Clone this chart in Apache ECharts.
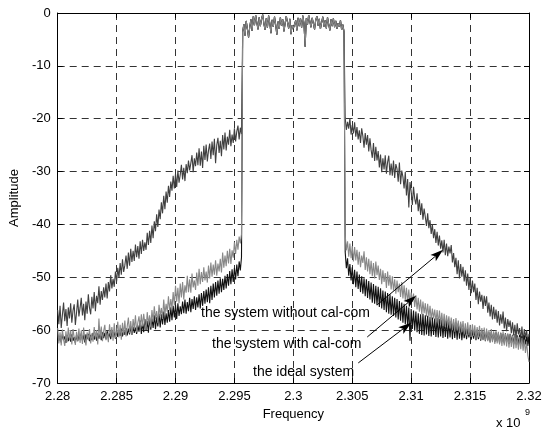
<!DOCTYPE html>
<html>
<head>
<meta charset="utf-8">
<script src="https://cdn.jsdelivr.net/npm/echarts@6/dist/echarts.min.js"></script>
<style>
  html, body { margin: 0; padding: 0; background: #fff; }
  #chart { width: 552px; height: 429px; }
</style>
</head>
<body>
<div id="chart"></div>
<script>
// Frequency grid, in units of 1e9 Hz: sample i sits at freqStart + i * freqStep
const freqStart = 2.28;
const freqStep = 0.0001;

// Axis ticks
const xTicks = [2.28, 2.285, 2.29, 2.295, 2.3, 2.305, 2.31, 2.315, 2.32];
const yTicks = [-70, -60, -50, -40, -30, -20, -10, 0];

// In-band response (2.2957 .. 2.3043), common to all three systems
const passband = [
  -3.6, -2.1, -4.3, -1.5, -3.0, -4.6, -2.7, -1.2, -3.4, -0.6,
  -2.3, -0.4, -1.8, -3.1, -0.8, -2.5, -1.1, -0.3, -2.0, -3.2,
  -1.0, -2.8, -0.5, -1.9, -3.8, -1.3, -2.6, -0.7, -2.2, -4.1,
  -1.6, -3.0, -0.8, -2.4, -1.2, -3.5, -2.0, -0.6, -1.7, -2.9,
  -1.1, -4.0, -2.3, -2.9, -2.8, -1.4, -3.3, -0.9, -2.5, -1.0,
  -2.8, -0.5, -1.9, -6.4, -1.0, -2.2, -0.4, -1.6, -2.7, -0.9,
  -2.0, -3.1, -1.3, -0.6, -2.4, -1.1, -3.0, -1.8, -0.7, -2.6,
  -1.4, -2.9, -0.8, -2.1, -3.3, -1.2, -2.5, -1.0, -2.7, -1.5,
  -3.0, -1.9, -2.6, -1.4, -3.2, -2.2, -3.5
];

// "the system without cal-com": lower (2.2800 .. 2.2956) and upper (2.3044 .. 2.3200) skirts
const withoutLeft = [
  -56.2, -58.9, -55.4, -59.6, -57.1, -54.8, -58.3, -56.0, -59.2, -55.7,
  -57.8, -54.9, -58.6, -56.3, -55.1, -59.0, -56.7, -54.2, -57.4, -55.8,
  -53.9, -57.2, -55.0, -58.1, -54.6, -56.9, -53.2, -55.8, -57.0, -53.7,
  -55.9, -52.8, -56.4, -53.5, -54.9, -51.7, -55.2, -52.6, -54.3, -51.9,
  -53.8, -51.2, -54.0, -50.9, -52.7, -49.6, -52.1, -50.3, -51.8, -48.9,
  -50.8, -48.2, -50.1, -47.3, -49.5, -46.6, -49.0, -47.7, -45.9, -48.4,
  -45.3, -47.8, -44.6, -47.1, -45.0, -46.9, -43.8, -46.2, -44.1, -46.5,
  -43.2, -45.6, -42.9, -45.0, -43.4, -44.8, -41.6, -43.9, -41.2, -43.5,
  -40.2, -42.6, -39.4, -41.3, -38.1, -40.5, -37.2, -39.0, -35.8, -37.9,
  -34.6, -37.1, -33.8, -35.9, -32.7, -34.8, -31.9, -33.6, -30.8, -33.2,
  -30.4, -32.9, -29.8, -32.1, -30.6, -28.7, -31.5, -29.3, -31.8, -28.6,
  -30.3, -27.9, -29.8, -28.4, -26.9, -30.1, -27.5, -29.0, -26.4, -28.8,
  -25.6, -28.9, -26.2, -29.3, -25.1, -27.8, -24.9, -28.1, -26.0, -24.7,
  -27.6, -24.3, -26.9, -23.8, -28.4, -25.0, -23.6, -26.5, -24.2, -27.1,
  -23.1, -25.8, -22.6, -26.0, -23.4, -24.9, -22.1, -25.2, -23.0, -24.6,
  -21.8, -24.3, -22.4, -21.3, -23.9, -21.7, -22.9
];
const withoutRight = [
  -19.8, -22.1, -20.6, -21.9, -19.9, -23.0, -21.2, -22.8, -20.7, -23.4,
  -21.6, -23.9, -22.2, -24.6, -21.8, -23.3, -25.5, -22.7, -24.9, -23.1,
  -26.2, -23.7, -25.9, -27.4, -24.6, -28.0, -25.3, -27.9, -26.1, -29.2,
  -26.8, -30.1, -27.5, -29.6, -26.9, -30.4, -28.2, -27.0, -30.7, -28.5,
  -30.8, -27.9, -31.2, -28.6, -29.5, -31.9, -28.3, -32.4, -29.8, -31.0,
  -33.2, -30.1, -34.5, -31.4, -36.8, -32.0, -33.8, -36.3, -32.9, -35.1,
  -36.2, -34.1, -37.5, -35.3, -38.2, -36.0, -39.1, -37.0, -38.6, -40.3,
  -37.9, -40.7, -39.2, -41.8, -40.0, -42.6, -40.9, -43.5, -41.4, -44.0,
  -42.1, -44.6, -43.0, -45.3, -42.9, -45.8, -43.6, -46.0, -44.2, -45.5,
  -43.9, -47.2, -45.4, -48.1, -46.3, -49.4, -46.8, -50.2, -47.5, -49.9,
  -48.0, -50.8, -48.7, -51.6, -49.3, -52.4, -50.1, -53.0, -50.6, -52.8,
  -51.2, -54.3, -52.0, -55.1, -52.7, -54.6, -53.3, -56.0, -53.5, -55.4,
  -53.6, -56.7, -54.8, -57.4, -55.2, -58.0, -55.6, -57.9, -56.1, -58.6,
  -56.4, -59.1, -57.0, -58.8, -56.5, -59.7, -57.6, -60.2, -57.9, -59.4,
  -58.2, -60.6, -58.5, -61.0, -59.0, -61.5, -58.7, -60.8, -59.6, -61.9,
  -59.3, -62.2, -59.8, -61.4, -60.0, -62.6, -60.7
];

// "the system with cal-com"
const withLeft = [
  -59.6, -62.5, -60.4, -62.9, -59.9, -61.8, -63.0, -60.2, -62.3, -59.5,
  -61.9, -60.0, -62.7, -59.8, -61.4, -62.8, -60.3, -62.1, -59.7, -62.4,
  -60.1, -62.6, -59.5, -61.7, -62.9, -60.4, -61.9, -59.8, -62.5, -60.6,
  -62.2, -59.4, -61.5, -60.0, -62.7, -57.8, -61.6, -59.3, -62.1, -60.2,
  -59.0, -61.9, -60.6, -62.3, -58.9, -61.2, -59.4, -62.0, -58.7, -61.5,
  -60.3, -58.4, -61.4, -59.0, -61.8, -58.6, -60.9, -58.2, -61.2, -59.3,
  -57.6, -60.6, -58.3, -60.9, -57.9, -59.8, -57.2, -60.4, -58.6, -57.4,
  -59.7, -57.0, -59.3, -56.9, -58.8, -59.9, -56.6, -58.9, -57.2, -59.5,
  -56.2, -58.4, -55.5, -57.9, -56.4, -58.7, -55.2, -57.3, -55.8, -57.9,
  -54.2, -57.1, -55.0, -56.6, -53.6, -56.3, -54.1, -55.9, -52.8, -55.3,
  -51.6, -54.6, -52.0, -54.9, -51.2, -53.8, -50.9, -54.2, -51.5, -52.9,
  -49.7, -52.8, -50.4, -52.9, -49.3, -51.9, -50.6, -52.4, -49.1, -51.6,
  -48.4, -51.3, -49.0, -50.9, -48.1, -50.6, -48.9, -51.0, -47.8, -50.2,
  -47.2, -49.9, -47.6, -49.5, -46.8, -49.7, -47.4, -48.9, -46.5, -49.1,
  -45.3, -48.2, -45.9, -47.9, -45.0, -47.4, -44.6, -47.5, -44.9, -46.3,
  -43.4, -45.6, -42.9, -44.8, -42.3, -43.6, -41.8
];
const withRight = [
  -42.0, -44.9, -43.2, -46.1, -43.6, -46.4, -44.1, -47.0, -44.3, -46.8,
  -44.8, -47.6, -45.2, -48.1, -45.9, -47.3, -45.1, -48.6, -46.2, -48.9,
  -46.5, -49.4, -46.9, -49.8, -47.3, -50.2, -47.0, -49.6, -47.8, -50.5,
  -48.4, -51.3, -48.7, -50.9, -49.2, -52.0, -48.9, -51.6, -49.6, -52.3,
  -49.8, -52.5, -50.4, -53.1, -50.6, -52.8, -51.2, -53.7, -50.9, -54.0,
  -51.5, -54.3, -52.0, -54.8, -52.3, -55.2, -52.9, -54.6, -53.1, -55.6,
  -53.4, -56.1, -53.9, -56.5, -54.2, -57.0, -54.6, -56.8, -54.9, -57.4,
  -55.0, -57.6, -55.4, -58.1, -55.9, -57.8, -56.1, -58.5, -56.2, -58.8,
  -56.3, -58.9, -56.7, -59.2, -56.9, -59.4, -57.2, -59.1, -57.4, -59.7,
  -57.6, -60.0, -57.9, -60.3, -57.7, -60.1, -58.2, -60.6, -58.4, -60.4,
  -58.3, -60.8, -58.7, -61.0, -58.5, -60.9, -59.0, -61.3, -58.9, -61.1,
  -59.1, -61.6, -59.4, -61.4, -59.2, -61.8, -59.6, -61.9, -59.5, -62.0,
  -59.7, -62.1, -60.0, -62.4, -59.8, -62.3, -60.2, -62.6, -60.1, -62.5,
  -60.3, -62.7, -60.5, -63.0, -60.2, -62.9, -60.7, -63.1, -60.6, -63.3,
  -60.8, -63.2, -61.0, -63.5, -60.9, -63.4, -61.2, -63.7, -61.3, -63.6,
  -61.5, -63.9, -61.8, -64.3, -62.2, -64.8, -66.0
];

// "the ideal system"
const idealLeft = [
  -60.8, -62.0, -61.1, -62.3, -60.7, -61.9, -61.2, -62.4, -60.9, -62.1,
  -61.0, -62.2, -60.8, -62.0, -61.3, -62.4, -60.9, -62.1, -61.0, -61.8,
  -60.6, -62.0, -61.0, -62.3, -60.8, -61.7, -60.7, -62.1, -60.9, -61.9,
  -60.5, -61.8, -60.8, -62.0, -60.6, -61.6, -60.7, -61.9, -60.4, -61.5,
  -60.5, -61.7, -60.2, -61.5, -60.6, -61.7, -60.1, -61.3, -60.4, -61.6,
  -59.9, -61.3, -60.2, -61.1, -59.7, -61.2, -60.1, -60.9, -59.6, -61.0,
  -59.7, -60.8, -59.3, -60.9, -59.4, -60.5, -59.5, -60.7, -59.1, -60.3,
  -58.2, -60.7, -58.6, -60.4, -57.9, -60.1, -58.3, -60.5, -57.6, -59.9,
  -57.8, -59.6, -57.2, -59.8, -57.5, -59.3, -56.9, -59.5, -57.0, -58.9,
  -56.5, -59.0, -56.8, -58.6, -56.2, -58.4, -55.7, -58.1, -55.4, -57.6,
  -55.2, -57.9, -54.9, -57.3, -55.5, -57.0, -54.6, -56.8, -54.2, -56.9,
  -54.7, -56.4, -53.9, -56.6, -54.1, -56.0, -53.6, -56.2, -53.8, -55.7,
  -53.2, -55.9, -53.0, -55.4, -52.6, -55.0, -52.3, -54.7, -51.9, -54.9,
  -51.6, -54.3, -51.2, -53.8, -50.9, -53.5, -50.6, -53.1, -50.2, -52.8,
  -50.3, -52.4, -49.7, -52.1, -49.4, -51.6, -48.8, -51.3, -48.5, -50.9,
  -48.2, -50.4, -47.6, -49.8, -47.0, -48.7, -46.2
];
const idealRight = [
  -45.2, -48.3, -46.4, -49.7, -47.5, -50.6, -48.1, -51.3, -48.6, -51.9,
  -48.9, -52.2, -49.5, -52.8, -49.8, -53.1, -50.2, -53.6, -50.4, -53.9,
  -50.7, -54.2, -51.0, -54.8, -51.3, -55.0, -51.6, -55.3, -51.8, -55.6,
  -52.1, -55.9, -52.5, -56.2, -52.7, -56.6, -53.0, -56.9, -53.2, -57.1,
  -53.6, -57.3, -53.9, -57.6, -54.1, -58.0, -54.5, -58.2, -54.8, -58.6,
  -55.0, -58.9, -55.4, -59.3, -55.7, -62.0, -56.0, -59.8, -56.3, -60.1,
  -56.5, -60.4, -56.8, -60.7, -57.0, -60.9, -56.9, -61.0, -57.2, -60.8,
  -57.3, -61.1, -57.5, -61.2, -57.6, -60.9, -57.8, -61.3, -57.7, -61.4,
  -57.9, -61.2, -58.0, -61.5, -58.1, -61.3, -58.2, -61.6, -58.4, -61.4,
  -58.3, -61.7, -58.5, -61.5, -58.6, -61.8, -58.7, -61.6, -58.8, -61.9,
  -59.6, -61.5, -59.8, -61.7, -59.7, -61.4, -59.9, -61.8, -60.0, -61.6,
  -60.1, -61.9, -59.9, -61.7, -60.2, -62.0, -60.0, -61.8, -60.3, -62.1,
  -60.2, -61.9, -60.4, -62.2, -60.3, -62.0, -60.5, -62.3, -60.4, -62.1,
  -60.6, -62.4, -60.5, -62.2, -60.7, -62.5, -60.6, -62.3, -60.8, -62.6,
  -60.7, -62.4, -60.9, -62.7, -60.8, -62.5, -61.0, -62.8, -60.9, -62.6,
  -61.1, -62.9, -61.0, -62.7, -61.2, -63.0, -61.3
];

// Annotation arrows, [frequency, amplitude] of tail and tip
const arrowTails = [[2.30712, -55.2], [2.30627, -61.3], [2.30551, -66.2]];
const arrowTips  = [[2.31271, -44.8], [2.31042, -53.5], [2.31000, -58.6]];
const labels = ['the system without cal-com', 'the system with cal-com', 'the ideal system'];

const FONT = '"Liberation Sans", Arial, Helvetica, sans-serif';

function buildSeries(left, right) {
  const ys = left.concat(passband, right);
  return ys.map((v, i) => [+(freqStart + i * freqStep).toFixed(4), v]);
}

const xMin = xTicks[0], xMax = xTicks[xTicks.length - 1];
const xInterval = +(xTicks[1] - xTicks[0]).toFixed(4);
const yMin = yTicks[0], yMax = yTicks[yTicks.length - 1];
const yInterval = yTicks[1] - yTicks[0];

const gridDash = { color: '#333', width: 1, type: [7, 5] };
const frame = { show: true, onZero: false, lineStyle: { color: '#000', width: 1 } };
const innerTick = { show: true, inside: true, length: 5, lineStyle: { color: '#000', width: 1 } };

function curve(name, data, color, z) {
  return {
    name, type: 'line', data, xAxisIndex: 0, yAxisIndex: 0,
    showSymbol: false, symbol: 'none', silent: true, clip: true, z,
    lineStyle: { color, width: 1.1 }, itemStyle: { color }
  };
}

const chart = echarts.init(document.getElementById('chart'), null, { renderer: 'canvas' });

chart.setOption({
  animation: false,
  backgroundColor: '#fff',
  textStyle: { fontFamily: FONT },
  grid: { left: 57, right: 23, top: 13, bottom: 46, containLabel: false },
  xAxis: [{
    type: 'value', min: xMin, max: xMax, interval: xInterval, position: 'bottom',
    name: 'Frequency', nameLocation: 'middle', nameGap: 24,
    nameTextStyle: { color: '#000', fontSize: 13, fontFamily: FONT },
    axisLine: frame, axisTick: innerTick,
    axisLabel: { color: '#000', fontSize: 13, fontFamily: FONT, margin: 7,
      formatter: v => String(parseFloat(v.toFixed(3))) },
    splitLine: { show: true, lineStyle: gridDash }
  }, {
    type: 'value', min: xMin, max: xMax, interval: xInterval, position: 'top',
    axisLine: frame, axisTick: innerTick, axisLabel: { show: false }, splitLine: { show: false }
  }],
  yAxis: [{
    type: 'value', min: yMin, max: yMax, interval: yInterval, position: 'left',
    name: 'Amplitude', nameLocation: 'middle', nameGap: 26, nameRotate: 90,
    nameTextStyle: { color: '#000', fontSize: 13, fontFamily: FONT },
    axisLine: frame, axisTick: innerTick,
    axisLabel: { color: '#000', fontSize: 13, fontFamily: FONT, margin: 7 },
    splitLine: { show: true, lineStyle: gridDash }
  }, {
    type: 'value', min: yMin, max: yMax, interval: yInterval, position: 'right',
    axisLine: frame, axisTick: innerTick, axisLabel: { show: false }, splitLine: { show: false }
  }],
  series: [
    curve('the system without cal-com', buildSeries(withoutLeft, withoutRight), '#404040', 2),
    curve('the ideal system', buildSeries(idealLeft, idealRight), '#111111', 3),
    curve('the system with cal-com', buildSeries(withLeft, withRight), '#888888', 4)
  ]
});

// Labels, arrows and the axis exponent
const graphics = [];
const labelPos = [[201, 313], [212, 344], [253, 372]];
labels.forEach((t, k) => {
  graphics.push({
    type: 'text', x: labelPos[k][0], y: labelPos[k][1], z: 100,
    style: { text: t, font: '14px ' + FONT, fill: '#000', textVerticalAlign: 'middle', verticalAlign: 'middle' }
  });
});
arrowTails.forEach((tail, k) => {
  const p0 = chart.convertToPixel({ seriesIndex: 0 }, tail);
  const p1 = chart.convertToPixel({ seriesIndex: 0 }, arrowTips[k]);
  const dx = p1[0] - p0[0], dy = p1[1] - p0[1];
  const len = Math.hypot(dx, dy);
  const ux = dx / len, uy = dy / len;
  const nx = -uy, ny = ux;
  const headLen = 13, headHalf = 4.2, notch = 10;
  const bx = p1[0] - ux * headLen, by = p1[1] - uy * headLen;
  const cx = p1[0] - ux * notch, cy = p1[1] - uy * notch;
  graphics.push({
    type: 'line', z: 100,
    shape: { x1: p0[0], y1: p0[1], x2: cx, y2: cy },
    style: { stroke: '#000', lineWidth: 1 }
  });
  graphics.push({
    type: 'polygon', z: 100,
    shape: { points: [[p1[0], p1[1]], [bx + nx * headHalf, by + ny * headHalf], [cx, cy], [bx - nx * headHalf, by - ny * headHalf]] },
    style: { fill: '#000' }
  });
});
graphics.push({
  type: 'text', x: 496, y: 423, z: 100,
  style: { text: 'x 10', font: '13px ' + FONT, fill: '#000', textVerticalAlign: 'middle', verticalAlign: 'middle' }
});
graphics.push({
  type: 'text', x: 525, y: 413, z: 100,
  style: { text: '9', font: '9px ' + FONT, fill: '#000', textVerticalAlign: 'middle', verticalAlign: 'middle' }
});
chart.setOption({ graphic: graphics });
</script>
</body>
</html>
